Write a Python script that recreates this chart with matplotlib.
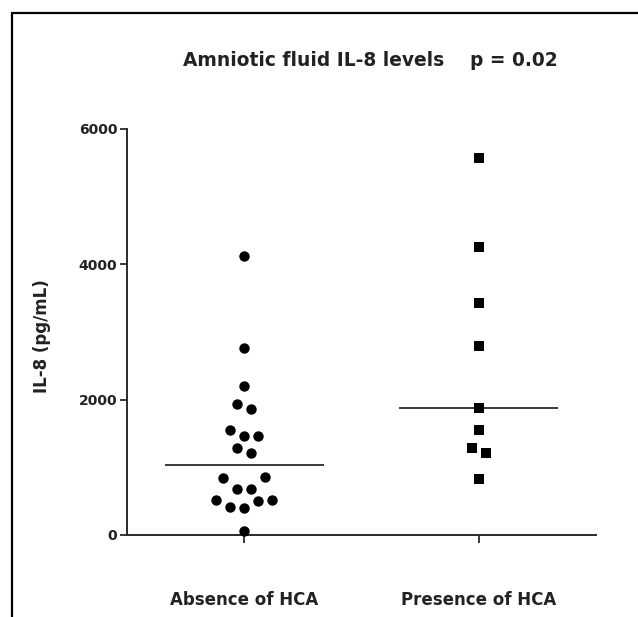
import numpy as np
import matplotlib
matplotlib.use("Agg")
import matplotlib.pyplot as plt
from matplotlib.patches import Rectangle

# ---- data ----
categories = ["Absence of HCA", "Presence of HCA"]
absence = [4130, 2760, 2207, 1941, 1858, 1552, 1468, 1468, 1281, 1217,
           862, 847, 685, 675, 517, 517, 502, 409, 394, 64]
presence = [5572, 4261, 3433, 2793, 1872, 1552, 1281, 1217, 823]
yticks = [0, 2000, 4000, 6000]
title_left = "Amniotic fluid IL-8 levels"
title_right = "p = 0.02"
ylabel = "IL-8 (pg/mL)"


def swarm_offsets(values, gap=200, step=0.06):
    values = np.asarray(values, dtype=float)
    order = np.argsort(values, kind="stable")
    offsets = np.zeros(len(values))
    groups, cur = [], []
    for i in order:
        if cur and values[i] - values[cur[0]] > gap:
            groups.append(cur)
            cur = []
        cur.append(i)
    if cur:
        groups.append(cur)
    for g in groups:
        n = len(g)
        slots = sorted(np.arange(n) - (n - 1) / 2,
                       key=lambda s: (abs(s), s if n >= 4 else -s))
        for idx, s in zip(g, slots):
            offsets[idx] = s * step
    return offsets


W, H = 638, 617
fig = plt.figure(figsize=(W / 100, H / 100), dpi=100)
plt.rcParams["font.family"] = ["DejaVu Sans"]

ax = fig.add_axes([127 / W, 82 / H, (596 - 127) / W, (535 - 129) / H])
ax.set_xlim(-0.5, 1.5)
ax.set_ylim(0, 6000)

groups = [absence, presence]
markers = ["o", "s"]
sizes = [56, 46]
for i, (vals, m, s) in enumerate(zip(groups, markers, sizes)):
    xs = i + swarm_offsets(vals)
    ax.scatter(xs, vals, marker=m, s=s, color="black", linewidths=0,
               zorder=3, clip_on=False)
    med = np.median(vals)
    ax.plot([i - 0.34, i + 0.34], [med, med], color="#2a2a2a", lw=1.3,
            zorder=2, solid_capstyle="butt")

for sp in ["top", "right"]:
    ax.spines[sp].set_visible(False)
for sp in ["left", "bottom"]:
    ax.spines[sp].set_color("#2a2a2a")
    ax.spines[sp].set_linewidth(1.4)

ax.set_yticks(yticks)
ax.set_yticklabels([str(v) for v in yticks], fontsize=10, fontweight="bold",
                   color="#222222")
ax.tick_params(axis="y", length=5, width=1.3, color="#2a2a2a", pad=2)

ax.set_xticks([0, 1])
ax.set_xticklabels(categories, fontsize=12, fontweight="bold", color="#222222")
ax.tick_params(axis="x", length=6, width=1.3, color="#2a2a2a", pad=34)

ax.set_ylabel(ylabel, fontsize=12, fontweight="bold", color="#222222")
ax.yaxis.set_label_coords((51 - 127) / (596 - 127), 0.49)

fig.text(183 / W, 1 - 60 / H, title_left, fontsize=13.4, fontweight="bold",
         ha="left", va="center", color="#222222")
fig.text(558 / W, 1 - 60 / H, title_right, fontsize=13.4, fontweight="bold",
         ha="right", va="center", color="#222222")

# outer frame (top and left visible, extends past right/bottom edges)
frame = Rectangle((12 / W, -0.1), 1.2, 1 - 13 / H + 0.1,
                  transform=fig.transFigure, fill=False, edgecolor="black",
                  linewidth=1.6, clip_on=False)
fig.patches.append(frame)

fig.savefig("out.png", dpi=100)
